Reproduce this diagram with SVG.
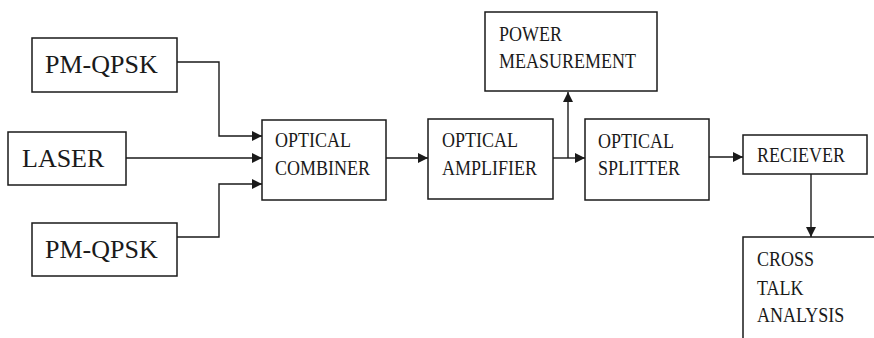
<svg xmlns="http://www.w3.org/2000/svg" width="874" height="338" viewBox="0 0 874 338">
<style>
.box{fill:#fff;stroke:#1a1a1a;stroke-width:1.5}
.big{font-family:"Liberation Serif","Times New Roman",serif;font-size:26px;fill:#1a1a1a}
.sm{font-family:"Liberation Serif","Times New Roman",serif;font-size:18px;fill:#1a1a1a}
.c{fill:none;stroke:#1a1a1a;stroke-width:1.4;marker-end:url(#ah)}
.l{fill:none;stroke:#1a1a1a;stroke-width:1.4}
</style>
<defs>
<marker id="ah" markerUnits="userSpaceOnUse" markerWidth="12" markerHeight="12" refX="10" refY="5" orient="auto">
<path d="M0,0 L10,5 L0,10 Z" fill="#1a1a1a"/>
</marker>
</defs>
<rect width="874" height="338" fill="#fff"/>
<g id="connectors">
<path class="c" d="M177,62 H219 V136 H262"/>
<path class="c" d="M126,158 H262"/>
<path class="c" d="M177,237 H219 V184 H262"/>
<path class="c" d="M386,158 H428"/>
<path class="c" d="M553,158 H585"/>
<path class="c" d="M568,158 V92"/>
<path class="c" d="M709,157 H743"/>
<path class="c" d="M811,174 V237"/>
</g>
<g id="pmqpsk1"><rect class="box" x="32" y="38" width="145" height="54"/><text class="big" x="45" y="73">PM-QPSK</text></g>
<g id="laser"><rect class="box" x="8" y="132" width="118" height="53"/><text class="big" x="22" y="167">LASER</text></g>
<g id="pmqpsk2"><rect class="box" x="32" y="223" width="145" height="53"/><text class="big" x="45" y="258">PM-QPSK</text></g>
<g id="combiner"><rect class="box" x="262" y="120" width="124" height="80"/>
<text class="sm" transform="translate(275,147) scale(1,1.2)">OPTICAL</text>
<text class="sm" transform="translate(275,175) scale(1,1.2)">COMBINER</text></g>
<g id="amplifier"><rect class="box" x="428" y="119" width="125" height="80"/>
<text class="sm" transform="translate(442,147) scale(1,1.2)">OPTICAL</text>
<text class="sm" transform="translate(442,175) scale(1,1.2)">AMPLIFIER</text></g>
<g id="power"><rect class="box" x="485" y="12" width="172" height="79"/>
<text class="sm" transform="translate(499,41) scale(1,1.2)">POWER</text>
<text class="sm" transform="translate(499,68) scale(1,1.2)">MEASUREMENT</text></g>
<g id="splitter"><rect class="box" x="585" y="119" width="124" height="81"/>
<text class="sm" transform="translate(598,148) scale(1,1.2)">OPTICAL</text>
<text class="sm" transform="translate(598,175) scale(1,1.2)">SPLITTER</text></g>
<g id="receiver"><rect class="box" x="743" y="135" width="124" height="39"/>
<text class="sm" transform="translate(757,162) scale(1,1.2)">RECIEVER</text></g>
<g id="crosstalk"><rect class="box" x="743" y="237" width="140" height="110"/>
<text class="sm" transform="translate(757,266) scale(1,1.2)">CROSS</text>
<text class="sm" transform="translate(757,295) scale(1,1.2)">TALK</text>
<text class="sm" transform="translate(757,322) scale(1,1.2)">ANALYSIS</text></g>
</svg>
